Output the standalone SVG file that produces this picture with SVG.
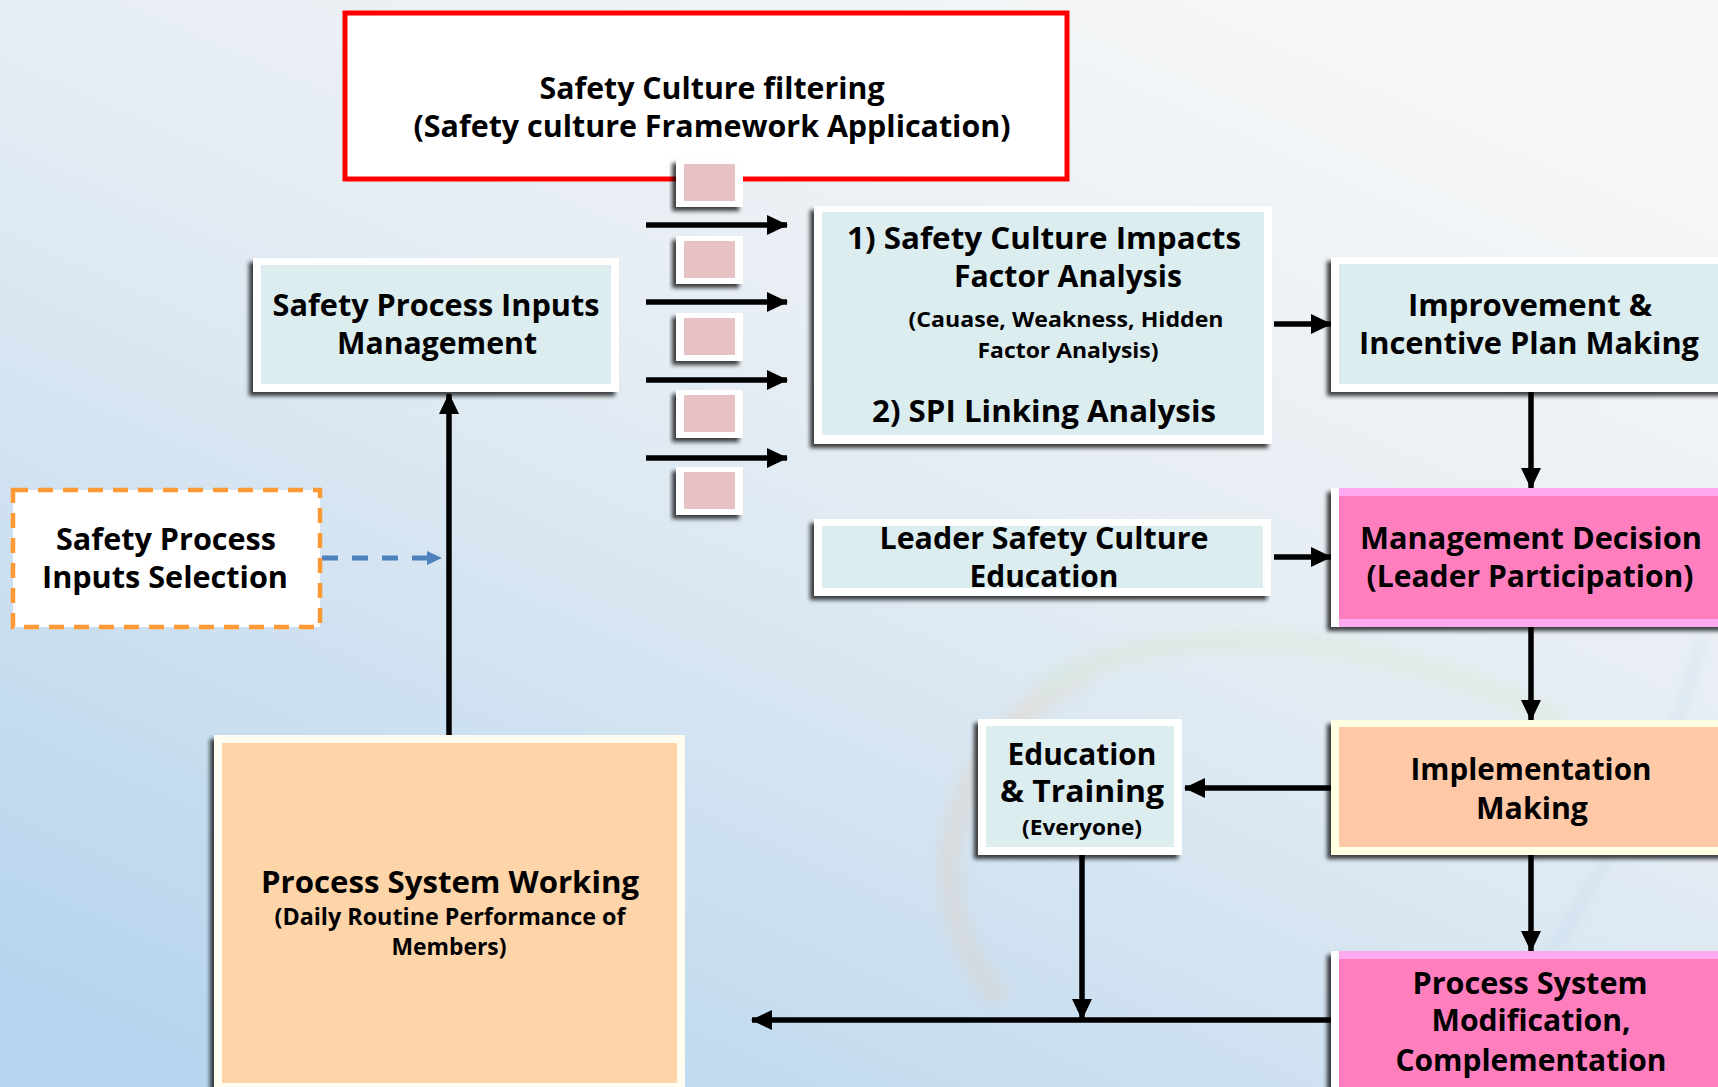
<svg xmlns="http://www.w3.org/2000/svg" width="1718" height="1087" viewBox="0 0 1718 1087">
  <defs>
    <linearGradient id="bg" x1="0.85" y1="0" x2="0.15" y2="1">
      <stop offset="0" stop-color="#f8f8f8"/>
      <stop offset="0.45" stop-color="#e4ecf3"/>
      <stop offset="1" stop-color="#b7d5ee"/>
    </linearGradient>
    <filter id="shadow" x="-10%" y="-10%" width="120%" height="130%">
      <feDropShadow dx="-4" dy="4" stdDeviation="2" flood-color="#000" flood-opacity="0.75"/>
    </filter>
    <filter id="soft" x="-20%" y="-20%" width="140%" height="140%">
      <feGaussianBlur stdDeviation="6"/>
    </filter>
    <marker id="head" markerWidth="22" markerHeight="22" refX="20" refY="11" orient="auto" markerUnits="userSpaceOnUse">
      <path d="M0,1 L21,11 L0,21 Z" fill="#000"/>
    </marker>
    <marker id="headBlue" markerWidth="16" markerHeight="16" refX="14" refY="8" orient="auto" markerUnits="userSpaceOnUse">
      <path d="M0,1 L15,8 L0,15 Z" fill="#4f81bd"/>
    </marker>
    <style>
      text { font-family: "Open Sans", "Noto Sans", "Liberation Sans", sans-serif; font-weight: 700; fill: #000; text-anchor: middle; }
      .big { font-size: 30px; }
      .mid { font-size: 23px; }
      .small { font-size: 22px; }
      .white { fill: #fff; }
      .blue { fill: #dcedf0; }
      .frame { filter: url(#shadow); }
      .link { stroke: #000; stroke-width: 5.5; fill: none; marker-end: url(#head); }
      .dash { stroke: #4f81bd; stroke-width: 5; fill: none; stroke-dasharray: 16 14; marker-end: url(#headBlue); }
      .chip { fill: #fff; filter: url(#shadow); }
      .chipfill { fill: #e6c2c4; }
    </style>
  </defs>

  <!-- backdrop -->
  <rect x="0" y="0" width="1718" height="1087" fill="url(#bg)"/>
  <g opacity="0.22" filter="url(#soft)" fill="none">
    <path d="M1000,1000 C900,880 960,730 1090,670" stroke="#e8c3a0" stroke-width="24"/>
    <path d="M1040,690 C1150,620 1350,620 1560,720" stroke="#cfe0b0" stroke-width="20"/>
    <path d="M1470,1087 C1580,900 1680,760 1700,640" stroke="#9cc4e4" stroke-width="8"/>
  </g>

  <!-- filtering frame -->
  <g id="filter-box">
    <rect x="345" y="13" width="722" height="166" fill="#fff" stroke="#ff0000" stroke-width="5"/>
    <text class="big" x="712" y="99" textLength="345" lengthAdjust="spacingAndGlyphs">Safety Culture filtering</text>
    <text class="big" x="712" y="137" textLength="597" lengthAdjust="spacingAndGlyphs">(Safety culture Framework Application)</text>
  </g>

  <!-- filter chips -->
  <g id="filter-chips">
    <rect class="chip" x="676" y="159" width="67" height="48"/>
    <rect class="chipfill" x="684" y="164" width="51" height="37"/>
    <rect class="chip" x="676" y="236" width="67" height="48"/>
    <rect class="chipfill" x="684" y="241" width="51" height="37"/>
    <rect class="chip" x="676" y="313" width="67" height="48"/>
    <rect class="chipfill" x="684" y="318" width="51" height="37"/>
    <rect class="chip" x="676" y="390" width="67" height="48"/>
    <rect class="chipfill" x="684" y="395" width="51" height="37"/>
    <rect class="chip" x="676" y="467" width="67" height="48"/>
    <rect class="chipfill" x="684" y="472" width="51" height="37"/>
  </g>

  <!-- connectors -->
  <g id="connectors">
    <line class="link" x1="646" y1="225" x2="787" y2="225"/>
    <line class="link" x1="646" y1="302" x2="787" y2="302"/>
    <line class="link" x1="646" y1="380" x2="787" y2="380"/>
    <line class="link" x1="646" y1="458" x2="787" y2="458"/>
    <line class="link" x1="1274" y1="324" x2="1331" y2="324"/>
    <line class="link" x1="1274" y1="557" x2="1331" y2="557"/>
    <line class="link" x1="1531" y1="392" x2="1531" y2="488"/>
    <line class="link" x1="1531" y1="627" x2="1531" y2="720"/>
    <line class="link" x1="1531" y1="855" x2="1531" y2="951"/>
    <line class="link" x1="1331" y1="788" x2="1185" y2="788"/>
    <line class="link" x1="1082" y1="855" x2="1082" y2="1019"/>
    <line class="link" x1="1331" y1="1020" x2="752" y2="1020"/>
    <line class="link" x1="449" y1="735" x2="449" y2="394"/>
    <line class="dash" x1="322" y1="558" x2="441" y2="558"/>
  </g>

  <!-- process inputs management -->
  <g id="inputs-management">
    <rect class="white frame" x="253" y="258" width="366" height="134"/>
    <rect class="blue" x="261" y="265" width="350" height="119"/>
    <text class="big" x="436" y="316" textLength="327" lengthAdjust="spacingAndGlyphs">Safety Process Inputs</text>
    <text class="big" x="437" y="354" textLength="200" lengthAdjust="spacingAndGlyphs">Management</text>
  </g>

  <!-- impact / linking analysis -->
  <g id="analysis">
    <rect class="white frame" x="814" y="206" width="458" height="238"/>
    <rect class="blue" x="822" y="212" width="442" height="223"/>
    <text class="big" x="1044" y="249" textLength="394" lengthAdjust="spacingAndGlyphs">1)  Safety Culture Impacts</text>
    <text class="big" x="1068" y="287" textLength="228" lengthAdjust="spacingAndGlyphs">Factor Analysis</text>
    <text class="small" x="1066" y="327" textLength="315" lengthAdjust="spacingAndGlyphs">(Cauase, Weakness, Hidden</text>
    <text class="small" x="1068" y="358" textLength="181" lengthAdjust="spacingAndGlyphs">Factor Analysis)</text>
    <text class="big" x="1044" y="422" textLength="344" lengthAdjust="spacingAndGlyphs">2) SPI Linking Analysis</text>
  </g>

  <!-- improvement plan -->
  <g id="improvement">
    <rect class="white frame" x="1331" y="257" width="395" height="135"/>
    <rect class="blue" x="1339" y="264" width="387" height="120"/>
    <text class="big" x="1530" y="316" textLength="244" lengthAdjust="spacingAndGlyphs">Improvement &amp;</text>
    <text class="big" x="1529" y="354" textLength="340" lengthAdjust="spacingAndGlyphs">Incentive Plan Making</text>
  </g>

  <!-- leader education -->
  <g id="leader-education">
    <rect class="white frame" x="814" y="519" width="457" height="77"/>
    <rect class="blue" x="822" y="526" width="441" height="62"/>
    <text class="big" x="1044" y="549" textLength="329" lengthAdjust="spacingAndGlyphs">Leader Safety Culture</text>
    <text class="big" x="1044" y="587" textLength="149" lengthAdjust="spacingAndGlyphs">Education</text>
  </g>

  <!-- management decision -->
  <g id="management-decision">
    <rect class="frame" x="1331" y="488" width="395" height="139" fill="#ffaaf0"/>
    <rect x="1331" y="488" width="8" height="139" fill="#fff"/>
    <rect x="1339" y="496" width="387" height="123" fill="#ff7fbe"/>
    <text class="big" x="1531" y="549" textLength="342" lengthAdjust="spacingAndGlyphs">Management Decision</text>
    <text class="big" x="1530" y="587" textLength="327" lengthAdjust="spacingAndGlyphs">(Leader Participation)</text>
  </g>

  <!-- inputs selection -->
  <g id="inputs-selection">
    <rect x="13" y="490" width="307" height="137" fill="#fff" stroke="#ff9933" stroke-width="4.5" stroke-dasharray="15 10"/>
    <text class="big" x="166" y="550" textLength="220" lengthAdjust="spacingAndGlyphs">Safety Process</text>
    <text class="big" x="165" y="588" textLength="246" lengthAdjust="spacingAndGlyphs">Inputs Selection</text>
  </g>

  <!-- education and training -->
  <g id="education-training">
    <rect class="white frame" x="978" y="719" width="204" height="136"/>
    <rect class="blue" x="986" y="726" width="188" height="121"/>
    <text class="big" x="1082" y="765" textLength="149" lengthAdjust="spacingAndGlyphs">Education</text>
    <text class="big" x="1082" y="802" textLength="164" lengthAdjust="spacingAndGlyphs">&amp; Training</text>
    <text class="small" x="1082" y="835" textLength="120" lengthAdjust="spacingAndGlyphs">(Everyone)</text>
  </g>

  <!-- implementation -->
  <g id="implementation">
    <rect class="frame" x="1331" y="720" width="395" height="135" fill="#ffffe2"/>
    <rect x="1339" y="727" width="387" height="120" fill="#ffc8a6"/>
    <text class="big" x="1531" y="780" textLength="241" lengthAdjust="spacingAndGlyphs">Implementation</text>
    <text class="big" x="1532" y="819" textLength="112" lengthAdjust="spacingAndGlyphs">Making</text>
  </g>

  <!-- system modification -->
  <g id="system-modification">
    <rect class="frame" x="1331" y="951" width="395" height="150" fill="#ffaaf0"/>
    <rect x="1331" y="951" width="8" height="150" fill="#fff"/>
    <rect x="1339" y="959" width="387" height="140" fill="#ff7fbe"/>
    <text class="big" x="1530" y="994" textLength="235" lengthAdjust="spacingAndGlyphs">Process System</text>
    <text class="big" x="1531" y="1031" textLength="199" lengthAdjust="spacingAndGlyphs">Modification,</text>
    <text class="big" x="1531" y="1071" textLength="271" lengthAdjust="spacingAndGlyphs">Complementation</text>
  </g>

  <!-- system working -->
  <g id="system-working">
    <rect class="frame" x="214" y="735" width="471" height="365" fill="#fffdf0"/>
    <rect x="222" y="743" width="455" height="340" fill="#fed4a9"/>
    <text class="big" x="450" y="893" textLength="378" lengthAdjust="spacingAndGlyphs">Process System Working</text>
    <text class="mid" x="450" y="925" textLength="351" lengthAdjust="spacingAndGlyphs">(Daily Routine Performance of</text>
    <text class="mid" x="449" y="955" textLength="115" lengthAdjust="spacingAndGlyphs">Members)</text>
  </g>
</svg>
